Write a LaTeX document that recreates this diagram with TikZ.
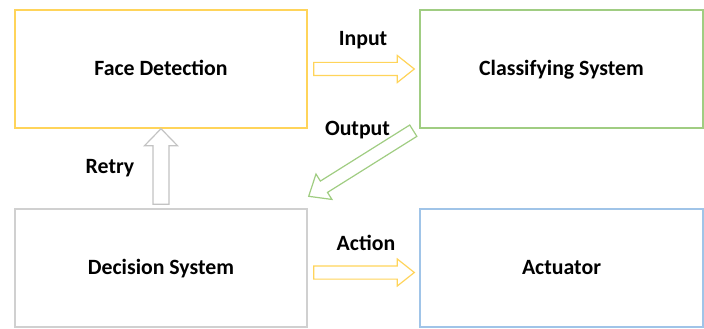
\documentclass[tikz,border=0pt]{standalone}
\usepackage{fontspec}
\setmainfont{Carlito}
\usetikzlibrary{calc}
\definecolor{cyel}{RGB}{255,212,90}
\definecolor{cgrn}{RGB}{160,205,130}
\definecolor{cgry}{RGB}{208,208,208}
\definecolor{cblu}{RGB}{160,196,232}
\definecolor{agry}{RGB}{195,195,195}
\newcommand{\blockarrow}[6]{%
  \coordinate (#2-h) at ($(#3)!#6!(#2)$);
  \draw[#1] ($(#2)!#4!90:(#3)$) -- ($(#2-h)!#4!90:(#3)$) -- ($(#2-h)!#5!90:(#3)$)
    -- (#3) -- ($(#2-h)!#5!-90:(#3)$) -- ($(#2-h)!#4!-90:(#3)$) -- ($(#2)!#4!-90:(#3)$) -- cycle;}
\begin{document}
\begin{tikzpicture}[x=1pt,y=-1pt,
  box/.style={draw,line width=1.4pt,minimum width=#1,minimum height=118pt,inner sep=0pt,
    font=\fontsize{21.8}{24}\selectfont\bfseries,text height=13.8pt,text depth=0pt},
  lbl/.style={anchor=base,inner sep=0pt,font=\fontsize{21.8}{24}\selectfont\bfseries},
  barrow/.style={line width=1.2pt,line join=miter,fill=white}]
\useasboundingbox (0,0) rectangle (704,329);
\node[box=292pt,draw=cyel] (fd) at (161,69) {Face Detection};
\node[box=283pt,draw=cgrn] (cs) at (561.5,69) {Classifying System};
\node[box=292pt,draw=cgry] (ds) at (161,268) {Decision System};
\node[box=283pt,draw=cblu] (ac) at (561.5,268) {Actuator};
% connectors
\coordinate (in-s) at ([xshift=6pt]fd.east);
\coordinate (in-e) at ([xshift=-5pt]cs.west);
\blockarrow{barrow,draw=cyel}{in-s}{in-e}{6.6pt}{13.5pt}{17pt}
\coordinate (out-s) at ([shift={(-6pt,-2pt)}]cs.south west);
\coordinate (out-e) at ([shift={(1pt,12pt)}]ds.north east);
\blockarrow{barrow,draw=cgrn}{out-s}{out-e}{6.7pt}{15pt}{18pt}
\coordinate (ret-s) at ([yshift=4pt]ds.north);
\coordinate (ret-e) at (fd.south);
\blockarrow{barrow,draw=agry}{ret-s}{ret-e}{8pt}{16.5pt}{17pt}
\coordinate (act-s) at ([shift={(6pt,-4.5pt)}]ds.east);
\coordinate (act-e) at ([shift={(-5pt,-4.5pt)}]ac.west);
\blockarrow{barrow,draw=cyel}{act-s}{act-e}{6.6pt}{13.5pt}{17pt}
% labels
\node[lbl] (lin) at (363,46) {Input};
\node[lbl] (lout) at (357.5,135) {Output};
\node[lbl] (lact) at (366,250) {Action};
\node[lbl] (lret) at (110,173.3) {Retry};
\end{tikzpicture}
\end{document}
